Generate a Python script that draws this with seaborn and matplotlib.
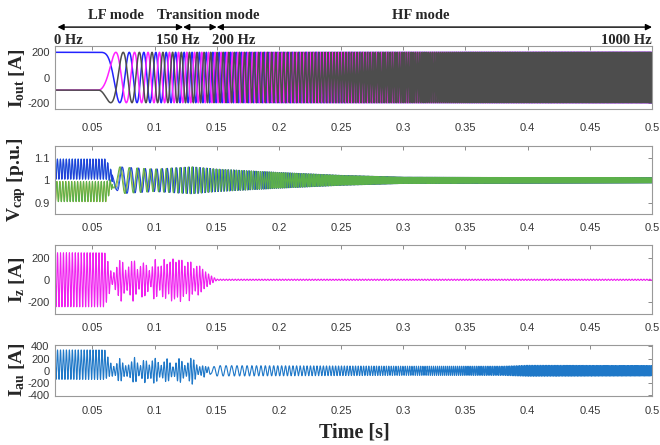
import numpy as np
import pandas as pd
import seaborn as sns
import matplotlib.pyplot as plt

# values
t_start, t_end, fs = 0.02, 0.5, 60000

# output frequency profile (s -> Hz)
f_time = [0.02, 0.055, 0.071, 0.085, 0.1, 0.123, 0.15, 0.5]
f_hz = [0, 0, 55, 85, 110, 150, 200, 1000]
i_out_amp = 200

# mode annotation (boundaries in s, labels)
mode_bounds = [0.022, 0.123, 0.15, 0.5]
mode_names = ['LF mode', 'Transition mode', 'HF mode']
mode_label_t = [0.0687, 0.1434, 0.3137]
hz_labels = ['0 Hz', '150 Hz', '200 Hz', '1000 Hz']
hz_label_t = [0.0189, 0.1185, 0.1635, 0.5]

# circulating (LF mode) carrier frequency, Hz
f_circ = 420

# capacitor voltage: arm offsets and ripple envelope
vcap_off_t = [0.02, 0.061, 0.068, 0.5]
vcap_off = [0.05, 0.05, 0.0, 0.0]
vcap_env_t = [0.02, 0.061, 0.066, 0.072, 0.1, 0.13, 0.15, 0.2, 0.25, 0.3, 0.5]
vcap_env = [0.045, 0.045, 0.02, 0.06, 0.05, 0.06, 0.05, 0.035, 0.022, 0.014, 0.011]
vcap_phase = {'cy': 0.5, 'ol': 1.1, 'bl': 0.0, 'gr': 1.6}

# I_z envelope
iz_env_t = [0.02, 0.06, 0.063, 0.066, 0.07, 0.073, 0.077, 0.08, 0.083, 0.087, 0.09,
            0.093, 0.097, 0.1, 0.104, 0.108, 0.111, 0.114, 0.118, 0.121, 0.125,
            0.128, 0.132, 0.135, 0.14, 0.145, 0.15, 0.5]
iz_env = [245, 245, 150, 40, 120, 200, 80, 130, 200, 70, 160,
          140, 60, 200, 90, 190, 120, 200, 150, 200, 110,
          190, 90, 140, 80, 40, 6, 6]

# I_au: dc offset, burst envelope and fundamental envelope
iau_off_t = [0.02, 0.06, 0.066, 0.5]
iau_off = [100, 100, 0, 0]
iau_env_t = [0.02, 0.06, 0.064, 0.068, 0.072, 0.076, 0.08, 0.084, 0.088, 0.092,
             0.096, 0.1, 0.105, 0.11, 0.115, 0.12, 0.125, 0.13, 0.135, 0.14, 0.146, 0.5]
iau_env = [240, 240, 120, 60, 200, 80, 100, 220, 60, 200,
           90, 220, 80, 200, 60, 210, 70, 230, 60, 90, 0, 0]
iau_fund_t = [0.02, 0.138, 0.15, 0.3, 0.38, 0.4, 0.5]
iau_fund = [0, 0, 85, 75, 75, 90, 85]

t = np.arange(t_start, t_end, 1 / fs)
theta = 2 * np.pi * np.cumsum(np.interp(t, f_time, f_hz)) / fs
carrier = 2 * np.pi * f_circ * t

iout = pd.DataFrame({
    't': np.tile(t, 3),
    'v': np.concatenate([i_out_amp * np.cos(theta),
                         i_out_amp * np.cos(theta - 2 * np.pi / 3),
                         i_out_amp * np.cos(theta + 2 * np.pi / 3)]),
    'ph': np.repeat(['a', 'b', 'c'], len(t)),
})

off = np.interp(t, vcap_off_t, vcap_off)
env = np.interp(t, vcap_env_t, vcap_env)
early = t < 0.066
ripple = np.where(early, carrier, 2 * theta)
sign = {'cy': 1, 'ol': -1, 'bl': 1, 'gr': -1}
vcap = pd.DataFrame({
    't': np.tile(t, 4),
    'v': np.concatenate([1 + sign[k] * off + env * np.sin(ripple + p)
                         for k, p in vcap_phase.items()]),
    'ph': np.repeat(list(vcap_phase.keys()), len(t)),
})

iz = pd.DataFrame({'t': t, 'v': np.interp(t, iz_env_t, iz_env) * np.sin(carrier)})
iau = pd.DataFrame({
    't': t,
    'v': np.interp(t, iau_off_t, iau_off)
         + np.interp(t, iau_env_t, iau_env) * np.sin(carrier)
         + np.interp(t, iau_fund_t, iau_fund) * np.sin(theta + 0.5),
})

sns.set_theme(style='white')
plt.rcParams['font.family'] = ['Liberation Sans', 'DejaVu Sans']
plt.rcParams['mathtext.fontset'] = 'custom'
plt.rcParams['mathtext.rm'] = 'Liberation Serif:bold'
plt.rcParams['mathtext.it'] = 'Liberation Serif:bold'
plt.rcParams['mathtext.bf'] = 'Liberation Serif:bold'

fig = plt.figure(figsize=(6.6, 4.45), dpi=100)
W, H = 660, 445
boxes = [(46, 109), (146, 214), (245, 314), (345, 396)]
axes = [fig.add_axes([55 / W, 1 - b / H, 597 / W, (b - tp) / H]) for tp, b in boxes]
ax1, ax2, ax3, ax4 = axes

sns.lineplot(data=iout, x='t', y='v', hue='ph', hue_order=['a', 'b', 'c'],
             palette={'a': '#2323ff', 'b': '#ff22ff', 'c': '#4d4d4d'},
             estimator=None, legend=False, lw=1.1, ax=ax1)
sns.lineplot(data=vcap, x='t', y='v', hue='ph', hue_order=['cy', 'ol', 'bl', 'gr'],
             palette={'cy': '#3a8be0', 'ol': '#b8b83a', 'bl': '#1f3fd8', 'gr': '#5cb04a'},
             estimator=None, legend=False, lw=0.7, ax=ax2)
sns.lineplot(data=iz, x='t', y='v', color='#f020f0', estimator=None, lw=0.8, ax=ax3)
sns.lineplot(data=iau, x='t', y='v', color='#1f78c8', estimator=None, lw=0.8, ax=ax4)

ylims = [(-250, 250), (0.85, 1.153), (-310, 315), (-410, 420)]
yticks = [[-200, 0, 200], [0.9, 1, 1.1], [-200, 0, 200], [-400, -200, 0, 200, 400]]
yticklabels = [['-200', '0', '200'], ['0.9', '1', '1.1'], ['-200', '0', '200'],
               ['-400', '-200', '0', '200', '400']]
xpads = [10, 6.5, 6.5, 7]
xt = [0.05, 0.1, 0.15, 0.2, 0.25, 0.3, 0.35, 0.4, 0.45, 0.5]
xtl = ['0.05', '0.1', '0.15', '0.2', '0.25', '0.3', '0.35', '0.4', '0.45', '0.5']
for ax, yl, yt, ytl, pad in zip(axes, ylims, yticks, yticklabels, xpads):
    ax.set_xlim(t_start, t_end)
    ax.set_ylim(*yl)
    ax.set_xticks(xt)
    ax.set_xticklabels(xtl)
    ax.set_yticks(yt)
    ax.set_yticklabels(ytl)
    ax.set_xlabel('')
    ax.set_ylabel('')
    ax.tick_params(direction='in', length=3, width=0.6, top=True, right=True,
                   color='#777777', labelcolor='#383838', labelsize=8)
    ax.tick_params(axis='x', pad=pad)
    ax.tick_params(axis='y', pad=4)
    for s in ax.spines.values():
        s.set_color('#999999')
        s.set_linewidth(0.8)

ylabels = [r'$I_{out}$ [A]', r'$V_{cap}$ [p.u.]', r'$I_{z}$ [A]', r'$I_{au}$ [A]']
ylab_y = [78, 180, 280, 370]
for lab, yy in zip(ylabels, ylab_y):
    fig.text(17 / W, 1 - yy / H, lab, rotation=90, ha='center', va='center',
             family='Liberation Serif', weight='bold', size=14)

fig.text(354 / W, 1 - 432 / H, 'Time [s]', ha='center', va='center',
         family='Liberation Serif', weight='bold', size=14.5)

# mode arrows and labels above the first panel
tr = ax1.get_xaxis_transform()
for a, b in zip(mode_bounds[:-1], mode_bounds[1:]):
    ax1.annotate('', xy=(b, 1.30), xytext=(a, 1.30), xycoords=tr, textcoords=tr,
                 arrowprops=dict(arrowstyle='<|-|>', color='black', lw=1.0,
                                 shrinkA=0, shrinkB=0, mutation_scale=9))
for name, tx in zip(mode_names, mode_label_t):
    ax1.text(tx, 1.49, name, transform=tr, ha='center', va='center',
             family='Liberation Serif', weight='bold', size=10.5)
for lab, tx, ha in zip(hz_labels, hz_label_t, ['left', 'center', 'center', 'right']):
    ax1.text(tx, 1.095, lab, transform=tr, ha=ha, va='center',
             family='Liberation Serif', weight='bold', size=10.5)

fig.savefig('out.png', dpi=100)
